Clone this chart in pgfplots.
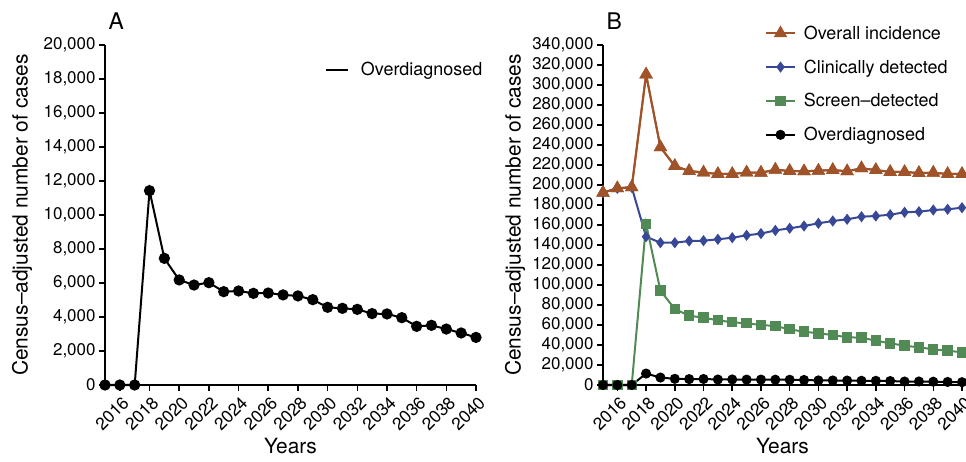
\documentclass[border=0pt]{standalone}
\usepackage{fontspec}
\setmainfont{TeX Gyre Heros}
\usepackage{pgfplots}
\pgfplotsset{compat=1.18}
\usepackage{pgfplotstable}
\definecolor{cbrown}{RGB}{160,82,40}
\definecolor{cblue}{RGB}{57,72,150}
\definecolor{cgreen}{RGB}{82,138,85}

\pgfplotstableread{
year over overall clin screen
2015 0 192300 192300 0
2016 0 196700 196700 0
2017 0 197700 197700 0
2018 11430 310500 148300 161000
2019 7450 237700 142300 94300
2020 6180 219000 142300 76000
2021 5880 214000 144000 69300
2022 6020 212500 144300 67300
2023 5490 211000 145700 64700
2024 5530 211000 147300 62700
2025 5390 212500 149700 61700
2026 5410 212300 151400 60000
2027 5300 215300 154600 59000
2028 5240 214000 156700 55700
2029 5020 213700 159000 53300
2030 4570 214300 161700 51700
2031 4510 215000 164000 50000
2032 4450 213700 165700 47700
2033 4200 216700 168300 47300
2034 4180 215000 169000 44300
2035 3960 213000 170300 41700
2036 3450 213000 172700 39300
2037 3510 212000 173300 37700
2038 3290 212300 175000 35700
2039 3060 211000 175700 34300
2040 2800 211000 177300 32700
}\datatable

\pgfplotsset{
  panel/.style={
    scale only axis,
    height=340bp,
    anchor=south west,
    clip=false,
    axis x line*=bottom,
    axis y line*=left,
    axis line style={line width=1.8bp, black},
    every tick/.style={black, line width=1.5bp},
    tick align=outside,
    major tick length=6bp,
    xmin=2015, xmax=2040,
    xtick={2016,2018,...,2040},
    x tick label style={rotate=45, anchor=north east, font=\fontsize{17.5}{17.5}\selectfont, /pgf/number format/1000 sep={}, /pgf/number format/fixed, inner sep=2bp, yshift=-2bp},
    y tick label style={font=\fontsize{17}{17}\selectfont, /pgf/number format/fixed, /pgf/number format/1000 sep={,}},
    /pgf/number format/assume math mode=true,
    scaled y ticks=false,
    ymin=0,
    xlabel={Years},
    xlabel style={at={(rel axis cs:0.5,0)}, anchor=center, yshift=-61bp, font=\fontsize{21}{21}\selectfont},
    ylabel={Census--adjusted number of cases},
    ylabel style={at={(rel axis cs:0,0.5)}, anchor=center, font=\fontsize{21}{21}\selectfont},
    title style={at={(rel axis cs:0,1)}, anchor=base west, yshift=10bp, font=\fontsize{23}{23}\selectfont},
    legend style={draw=none, fill=none, font=\fontsize{18}{18}\selectfont, inner sep=0pt, row sep=15bp},
    legend cell align=left,
  }
}

\begin{document}
\begin{tikzpicture}
\begin{axis}[panel,
  at={(105bp,77bp)}, width=371bp,
  ymax=20000, ytick={0,2000,...,20000},
  ylabel style={yshift=83bp},
  title={A},
  legend style={at={(rel axis cs:0.593,0.955)}, anchor=north west, /tikz/every odd column/.append style={column sep=10bp}},
  legend image code/.code={\draw[#1, line width=1.8bp] (0bp,0bp) -- (22bp,0bp);},
]
\addplot[black, line width=2bp, mark=*, mark size=4.6bp] table[x=year, y=over] {\datatable};
\addlegendentry{Overdiagnosed}
\end{axis}

\begin{axis}[panel,
  at={(603bp,77bp)}, width=359bp,
  ymax=340000, ytick={0,20000,...,340000},
  ylabel style={yshift=88bp},
  title={B},
  legend style={at={(rel axis cs:0.451,1.063)}, anchor=north west, /tikz/every odd column/.append style={column sep=6bp}},
  legend image code/.code={\draw[#1, line width=1.8bp] (0bp,0bp) -- (29bp,0bp); \draw[#1] plot coordinates {(14.5bp,0bp)};},
]
\addplot[cbrown, line width=2bp, mark=triangle*, mark size=5.8bp] table[x=year, y=overall] {\datatable};
\addlegendentry{Overall incidence}
\addplot[cblue, line width=2bp, mark=diamond*, mark size=4bp] table[x=year, y=clin] {\datatable};
\addlegendentry{Clinically detected}
\addplot[cgreen, line width=2bp, mark=square*, mark size=4.2bp] table[x=year, y=screen] {\datatable};
\addlegendentry{Screen--detected}
\addplot[black, line width=2bp, mark=*, mark size=4bp] table[x=year, y=over] {\datatable};
\addlegendentry{Overdiagnosed}
\addplot[cbrown, line width=2bp, mark=triangle*, mark size=5.8bp, forget plot] table[x=year, y=overall] {\datatable};
\end{axis}
\pgfresetboundingbox
\useasboundingbox (0bp,0bp) rectangle (966bp,462bp);
\end{tikzpicture}
\end{document}
